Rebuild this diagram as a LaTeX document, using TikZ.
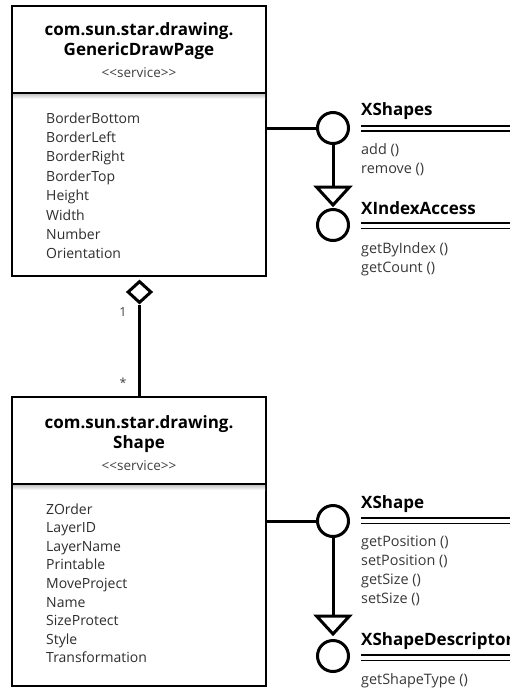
\documentclass[tikz,border=0pt]{standalone}
\usepackage{fontspec}
\setmainfont{Open Sans}
\newfontfamily\osans{Open Sans}
\usetikzlibrary{shapes.geometric}
\begin{document}
\begin{tikzpicture}[x=1pt,y=-1pt,
  umlbox/.style={draw,line width=2pt,inner sep=0pt,minimum width=254pt},
  ctitle/.style={font=\osans\fontsize{17}{20}\selectfont\bfseries,anchor=base,inner sep=0pt},
  stereo/.style={font=\osans\fontsize{13.5}{16}\selectfont,text=black!75,anchor=base,inner sep=0pt},
  attr/.style={font=\osans\fontsize{14}{17}\selectfont,text=black!82,anchor=base west,inner sep=0pt},
  ititle/.style={font=\osans\fontsize{17}{20}\selectfont\bfseries,anchor=base west,inner sep=0pt},
  meth/.style={font=\osans\fontsize{14.4}{17}\selectfont,text=black!78,anchor=base west,inner sep=0pt},
  mult/.style={font=\osans\fontsize{12.5}{15}\selectfont,text=black!75,inner sep=0pt},
  lollipop/.style={draw,circle,line width=3pt,fill=white,inner sep=0pt,minimum size=31pt},
  conn/.style={line width=3pt},
  dbl/.style={line width=1.3pt},
  inh/.style={line width=3pt,fill=white,line join=miter}
]
\clip (0,0) rectangle (510,689);
\fill[white] (0,0) rectangle (510,689);

% ---------- GenericDrawPage ----------
\node[umlbox,minimum height=270pt] (page) at (139,141) {};
\draw[line width=2pt] (12,93) -- (266,93);
\shade[top color=black!22,bottom color=white] (13,94) rectangle (265,99);
\node[ctitle] (pageT1) at (139,35) {com.sun.star.drawing.};
\node[ctitle] (pageT2) at (139,55) {GenericDrawPage};
\node[stereo] (pageS) at (139,77) {<<service>>};
\node[attr] (pa1) at (46,123) {BorderBottom};
\node[attr] (pa2) at (46,142.4) {BorderLeft};
\node[attr] (pa3) at (46,161.8) {BorderRight};
\node[attr] (pa4) at (46,181.2) {BorderTop};
\node[attr] (pa5) at (46,200.6) {Height};
\node[attr] (pa6) at (46,220) {Width};
\node[attr] (pa7) at (46,239.4) {Number};
\node[attr] (pa8) at (46,258.8) {Orientation};

% ---------- Shape ----------
\node[umlbox,minimum height=289pt] (shape) at (139,541.5) {};
\draw[line width=2pt] (12,484) -- (266,484);
\shade[top color=black!22,bottom color=white] (13,485) rectangle (265,490);
\node[ctitle] (shT1) at (139,428) {com.sun.star.drawing.};
\node[ctitle] (shT2) at (139,448) {Shape};
\node[stereo] (shS) at (139,470) {<<service>>};
\node[attr] (sa1) at (46,514) {ZOrder};
\node[attr] (sa2) at (46,532.6) {LayerID};
\node[attr] (sa3) at (46,551.2) {LayerName};
\node[attr] (sa4) at (46,569.8) {Printable};
\node[attr] (sa5) at (46,588.4) {MoveProject};
\node[attr] (sa6) at (46,607) {Name};
\node[attr] (sa7) at (46,625.6) {SizeProtect};
\node[attr] (sa8) at (46,644.2) {Style};
\node[attr] (sa9) at (46,662.8) {Transformation};

% ---------- aggregation ----------
\node[draw,diamond,line width=3pt,fill=white,inner sep=0pt,minimum width=24pt,minimum height=22pt] (agg) at (139.5,292) {};
\draw[conn] (agg.south) -- (shape.north -| agg.south);
\node[mult] (m1) at (123,312) {1};
\node[mult] (m2) at (123,383) {*};

% ---------- XShapes / XIndexAccess ----------
\node[lollipop] (xs) at (333,128) {};
\draw[conn] (page.east |- xs.west) -- (xs.west);
\node[ititle] (xsT) at (361,115) {XShapes};
\draw[dbl] (361,126) -- (510,126);
\draw[dbl] (361,131) -- (510,131);
\node[meth] (xsM1) at (361,154) {add ()};
\node[meth] (xsM2) at (361,173.5) {remove ()};
\coordinate (tri1) at (333,187);
\draw[conn] (xs.south) -- (tri1);
\draw[inh] (tri1) ++(-16.5,0) -- ++(33,0) -- (333,205) -- cycle;
\node[lollipop] (xia) at (333,225) {};
\node[ititle] (xiaT) at (361,214) {XIndexAccess};
\draw[dbl] (361,223) -- (510,223);
\draw[dbl] (361,228.5) -- (510,228.5);
\node[meth] (xiaM1) at (361,253) {getByIndex ()};
\node[meth] (xiaM2) at (361,272) {getCount ()};

% ---------- XShape / XShapeDescriptor ----------
\node[lollipop] (xsh) at (333,521) {};
\draw[conn] (shape.east |- xsh.west) -- (xsh.west);
\node[ititle] (xshT) at (361,508) {XShape};
\draw[dbl] (361,518) -- (510,518);
\draw[dbl] (361,523.5) -- (510,523.5);
\node[meth] (xshM1) at (361,546) {getPosition ()};
\node[meth] (xshM2) at (361,565) {setPosition ()};
\node[meth] (xshM3) at (361,584) {getSize ()};
\node[meth] (xshM4) at (361,603) {setSize ()};
\coordinate (tri2) at (333,616);
\draw[conn] (xsh.south) -- (tri2);
\draw[inh] (tri2) ++(-16.5,0) -- ++(33,0) -- (333,634) -- cycle;
\node[lollipop] (xsd) at (333,656) {};
\node[ititle] (xsdT) at (361,645) {XShapeDescriptor};
\draw[dbl] (361,655) -- (510,655);
\draw[dbl] (361,660.5) -- (510,660.5);
\node[meth] (xsdM1) at (361,684) {getShapeType ()};
\end{tikzpicture}
\end{document}
